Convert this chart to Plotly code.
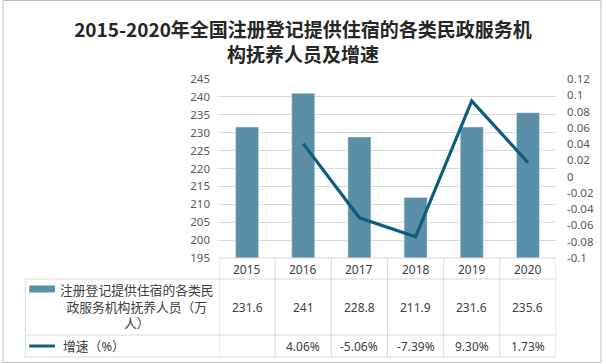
import plotly.graph_objects as go

years = ["2015", "2016", "2017", "2018", "2019", "2020"]
people = [231.6, 241, 228.8, 211.9, 231.6, 235.6]
growth = [None, 0.0406, -0.0506, -0.0739, 0.0930, 0.0173]
people_labels = ["231.6", "241", "228.8", "211.9", "231.6", "235.6"]
growth_labels = ["", "4.06%", "-5.06%", "-7.39%", "9.30%", "1.73%"]
left_ticks = [195, 200, 205, 210, 215, 220, 225, 230, 235, 240, 245]
right_ticks = [-0.1, -0.08, -0.06, -0.04, -0.02, 0, 0.02, 0.04, 0.06, 0.08, 0.1, 0.12]
right_tick_text = ["-0.1", "-0.08", "-0.06", "-0.04", "-0.02", "0", "0.02", "0.04",
                   "0.06", "0.08", "0.1", "0.12"]
bar_name = "注册登记提供住宿的各类民<br>政服务机构抚养人员（万<br>人）"
line_name = "增速（%）"
title = "2015-2020年全国注册登记提供住宿的各类民政服务机<br>构抚养人员及增速"

W, H = 606, 364
L, R, T, B = 219, 560, 79, 258
BAR_C = "#5b8fa7"
LINE_C = "#0c5e7c"
GRID_C = "#d9d9d9"
TXT_C = "#404040"
FONT = "Noto Sans, Noto Sans CJK SC, sans-serif"


def px(xp):
    return (xp - L) / (R - L)


def py(yp):
    return (B - yp) / (B - T)


fig = go.Figure()
fig.add_trace(go.Bar(x=years, y=people, marker_color=BAR_C, width=0.41,
                     name="bar", showlegend=False))
fig.add_trace(go.Scatter(x=years, y=growth, yaxis="y2", mode="lines",
                         line=dict(color=LINE_C, width=3.2), name="line",
                         showlegend=False))

shapes = []
line_style = dict(color=GRID_C, width=1)
shapes.append(dict(type="line", xref="paper", yref="paper", x0=px(L), x1=px(R),
                   y0=py(B), y1=py(B), line=line_style))
for yy in [279, 335, 357]:
    shapes.append(dict(type="line", xref="paper", yref="paper", x0=px(23), x1=px(R),
                       y0=py(yy), y1=py(yy), line=line_style))
shapes.append(dict(type="line", xref="paper", yref="paper", x0=px(23), x1=px(23),
                   y0=py(279), y1=py(357), line=line_style))
for i in range(len(years) + 1):
    xb = i - 0.5
    shapes.append(dict(type="line", xref="x", yref="paper", x0=xb, x1=xb,
                       y0=py(B), y1=py(357), line=line_style))
shapes.append(dict(type="rect", xref="paper", yref="paper", x0=px(27), x1=px(53),
                   y0=py(292.5), y1=py(285.5), fillcolor=BAR_C, line=dict(width=0)))
shapes.append(dict(type="line", xref="paper", yref="paper", x0=px(27), x1=px(53),
                   y0=py(346), y1=py(346), line=dict(color=LINE_C, width=3)))
shapes.append(dict(type="rect", xref="paper", yref="paper", x0=px(0.5), x1=px(605.5),
                   y0=py(0.5), y1=py(362.5), line=dict(color="#bfbfbf", width=1)))

ann = []
cell_font = dict(size=12, color=TXT_C, family=FONT)
for i, yr in enumerate(years):
    for yy, txt in [(269, yr), (307, people_labels[i]), (346, growth_labels[i])]:
        ann.append(dict(x=i, y=py(yy), xref="x", yref="paper", text=txt,
                        showarrow=False, xanchor="center", yanchor="middle",
                        font=cell_font))
ann.append(dict(x=px(136), y=py(306), xref="paper", yref="paper", text=bar_name,
                showarrow=False, align="center", xanchor="center", yanchor="middle",
                font=dict(size=12.8, color=TXT_C, family=FONT)))
ann.append(dict(x=px(59), y=py(346), xref="paper", yref="paper", text=line_name,
                xanchor="left", yanchor="middle", showarrow=False,
                font=dict(size=12.8, color=TXT_C, family=FONT)))

fig.update_layout(
    width=W, height=H,
    margin=dict(l=L, r=W - R, t=T, b=H - B),
    paper_bgcolor="white", plot_bgcolor="white",
    title=dict(text=title, x=0.5, xanchor="center", xref="container",
               y=1 - 37 / H, yanchor="middle", yref="container",
               font=dict(size=19, color="#262626", family="Noto Sans CJK SC", weight="bold")),
    xaxis=dict(type="category", showticklabels=False, showgrid=False, zeroline=False,
               showline=False, ticks="", range=[-0.5, 5.5]),
    yaxis=dict(range=[195, 245], tickvals=left_ticks, showgrid=True, gridcolor=GRID_C,
               gridwidth=1, zeroline=False, showline=False, ticks="",
               ticklabelstandoff=8,
               tickfont=dict(size=11.5, color="#595959", family=FONT)),
    yaxis2=dict(range=[-0.1, 0.12], overlaying="y", side="right", tickvals=right_ticks,
                ticktext=right_tick_text, showgrid=False, zeroline=False, showline=False,
                ticks="", ticklabelstandoff=10,
                tickfont=dict(size=11.5, color="#595959", family=FONT)),
    shapes=shapes, annotations=ann, bargap=0.59,
)

fig.write_html("out.html", config={"displayModeBar": False},
               post_script="document.body.style.margin='0';document.body.style.overflow='hidden';")
